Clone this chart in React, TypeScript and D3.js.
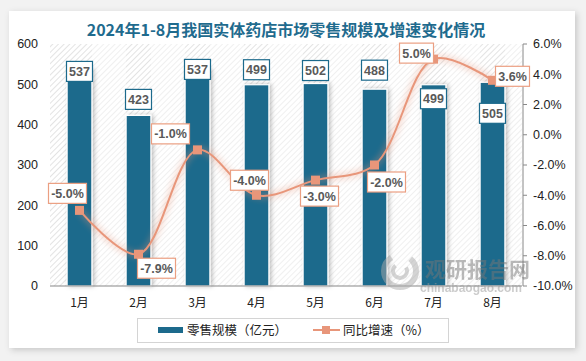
import * as d3 from 'd3'

const months = ['1月', '2月', '3月', '4月', '5月', '6月', '7月', '8月']
const sales = [537, 423, 537, 499, 502, 488, 499, 505]
const growth = [-5.0, -7.9, -1.0, -4.0, -3.0, -2.0, 5.0, 3.6]
const leftTicks = [0, 100, 200, 300, 400, 500, 600]
const rightTicks = [-10, -8, -6, -4, -2, 0, 2, 4, 6]

// label placement (offset from the mark, px)
const barLabelDy = [2, -16, 0, -15, -13, -19, 14, 31]
const lineLabelOffset: [number, number][] = [
  [-12, -17],
  [18, 14],
  [-27, -16],
  [-7, -15],
  [4, 16],
  [12, 17],
  [-17, -6],
  [20, -4],
]

const W = 586
const H = 361
const plot = { left: 50, right: 522, top: 44, bottom: 286 }
const BLUE = '#1c6a8c'
const ORANGE = '#e8967a'
const FONT = '"Liberation Sans", Arial, "Noto Sans CJK SC", sans-serif'
const CJK = '"Noto Sans CJK SC", sans-serif'

export default function App() {
  const x = d3
    .scaleBand()
    .domain(months)
    .range([plot.left, plot.right])
    .paddingInner(0.58)
    .paddingOuter(0.29)
  const y = d3.scaleLinear().domain([0, 600]).range([plot.bottom, plot.top])
  const y2 = d3.scaleLinear().domain([-10, 6]).range([plot.bottom, plot.top])
  const bw = x.bandwidth()

  const pts: [number, number][] = growth.map((g, i) => [
    x(months[i])! + bw / 2,
    y2(g),
  ])
  const line = d3.line().curve(d3.curveCatmullRom.alpha(0.5))(pts) || ''

  const fmt = (v: number) => v.toFixed(1) + '%'

  return (
    <svg
      width={W}
      height={H}
      style={{ position: 'absolute', left: 0, top: 0 }}
      fontFamily={FONT}
    >
      <defs>
        <pattern
          id="hatch"
          width="4"
          height="4"
          patternUnits="userSpaceOnUse"
          patternTransform="rotate(45)"
        >
          <rect width="4" height="4" fill="#ffffff" />
          <line x1="0" y1="0" x2="0" y2="4" stroke="#d4d4d4" strokeWidth="1.3" />
        </pattern>
        <filter id="panelShadow" x="-5%" y="-5%" width="110%" height="110%">
          <feDropShadow dx="2" dy="2" stdDeviation="3" floodColor="#000" floodOpacity="0.18" />
        </filter>
        <filter id="glow" x="-10%" y="-10%" width="120%" height="120%">
          <feGaussianBlur stdDeviation="3" />
        </filter>
        <filter id="barShadow" x="-50%" y="-5%" width="200%" height="110%">
          <feDropShadow dx="2" dy="0" stdDeviation="2" floodColor="#000" floodOpacity="0.25" />
        </filter>
      </defs>

      <rect width={W} height={H} fill="#f2f2f2" />
      <rect x={9} y={11} width={566} height={337} fill="#fff" filter="url(#panelShadow)" />

      <text
        x={286}
        y={36}
        textAnchor="middle"
        fontFamily={CJK}
        fontWeight="bold"
        fontSize={16}
        fill="#1f6b8e"
      >
        2024年1-8月我国实体药店市场零售规模及增速变化情况
      </text>

      {/* plot background */}
      <rect
        x={plot.left}
        y={plot.top}
        width={plot.right - plot.left}
        height={plot.bottom - plot.top}
        fill="url(#hatch)"
      />
      {months.map((m, i) => {
        const x0 = x(m)! + bw
        const x1 = i < months.length - 1 ? x(months[i + 1])! : plot.right
        return (
          <rect
            key={'band' + m}
            x={x0}
            y={plot.top}
            width={x1 - x0}
            height={plot.bottom - plot.top}
            fill="#fff"
            opacity={0.45}
          />
        )
      })}

      {/* left ticks */}
      {leftTicks.map(t => (
        <text key={'l' + t} x={38} y={y(t)} dy="0.35em" textAnchor="end" fontSize={12.5} fill="#222">
          {t}
        </text>
      ))}

      {/* right axis */}
      <line x1={plot.right + 1} x2={plot.right + 1} y1={plot.top} y2={plot.bottom} stroke="#888" />
      {rightTicks.map(t => (
        <g key={'r' + t}>
          <line x1={plot.right + 1} x2={plot.right + 5} y1={y2(t)} y2={y2(t)} stroke="#888" />
          <text x={533} y={y2(t)} dy="0.35em" fontSize={12.5} fill="#222">
            {fmt(t)}
          </text>
        </g>
      ))}

      {/* bars */}
      {sales.map((v, i) => (
        <rect
          key={'bar' + i}
          x={x(months[i])}
          y={y(v)}
          width={bw}
          height={plot.bottom - y(v)}
          fill={BLUE}
          stroke="#fff"
          strokeWidth={1.2}
          filter="url(#barShadow)"
        />
      ))}

      <line x1={plot.left} x2={plot.right} y1={plot.bottom} y2={plot.bottom} stroke="#888" strokeWidth={1.2} />

      {/* watermark */}
      <g opacity={0.5}>
        <circle cx={400} cy={271} r={16} fill="none" stroke="#aaa" strokeWidth={6} strokeDasharray="66 20" />
        <circle cx={400} cy={271} r={7} fill="none" stroke="#aaa" strokeWidth={4} strokeDasharray="28 12" />
        <text x={425} y={277} fontFamily={CJK} fontWeight="bold" fontSize={21} fill="#777">
          观研报告网
        </text>
        <text x={420} y={292} fontFamily={FONT} fontWeight="bold" fontSize={12} fill="#999">
          chinabaogao.com
        </text>
      </g>

      {months.map(m => (
        <text key={'x' + m} x={x(m)! + bw / 2} y={307} textAnchor="middle" fontFamily={CJK} fontSize={12} fill="#222">
          {m}
        </text>
      ))}

      {/* bar labels */}
      {sales.map((v, i) => {
        const cx = x(months[i])! + bw / 2
        const cy = y(v) + barLabelDy[i]
        return (
          <g key={'bl' + i}>
            <rect x={cx - 13} y={cy - 10} width={26} height={20} fill="#fff" stroke={BLUE} strokeWidth={1.2} />
            <text x={cx} y={cy} dy="0.36em" textAnchor="middle" fontSize={12.5} fontWeight="bold" fill="#595959">
              {v}
            </text>
          </g>
        )
      })}

      {/* growth line */}
      <path d={line} fill="none" stroke={ORANGE} strokeWidth={6} opacity={0.35} filter="url(#glow)" />
      <path d={line} fill="none" stroke={ORANGE} strokeWidth={2} />
      {pts.map(([px, py], i) => (
        <rect key={'mk' + i} x={px - 4.5} y={py - 4.5} width={9} height={9} fill={ORANGE} />
      ))}

      {pts.map(([px, py], i) => {
        const label = fmt(growth[i])
        const w = label.length > 4 ? 38 : 34
        const cx = px + lineLabelOffset[i][0]
        const cy = py + lineLabelOffset[i][1]
        return (
          <g key={'ll' + i}>
            <rect x={cx - w / 2} y={cy - 10} width={w} height={20} fill="#fff" stroke="#eb9f82" strokeWidth={1.2} />
            <text x={cx} y={cy} dy="0.36em" textAnchor="middle" fontSize={12.5} fontWeight="bold" fill="#595959">
              {label}
            </text>
          </g>
        )
      })}

      {/* legend */}
      <rect x={137.5} y={318.5} width={311} height={24} fill="#fff" stroke="#d4d4d4" />
      <rect x={158} y={327} width={25} height={6} fill={BLUE} />
      <text x={187} y={330} dy="0.36em" fontFamily={CJK} fontSize={12.5} fill="#222">
        零售规模（亿元）
      </text>
      <line x1={313} x2={340} y1={330} y2={330} stroke={ORANGE} strokeWidth={2} />
      <rect x={322} y={326} width={8} height={8} fill={ORANGE} />
      <text x={343} y={330} dy="0.36em" fontFamily={CJK} fontSize={12.5} fill="#222">
        同比增速（%）
      </text>
    </svg>
  )
}
